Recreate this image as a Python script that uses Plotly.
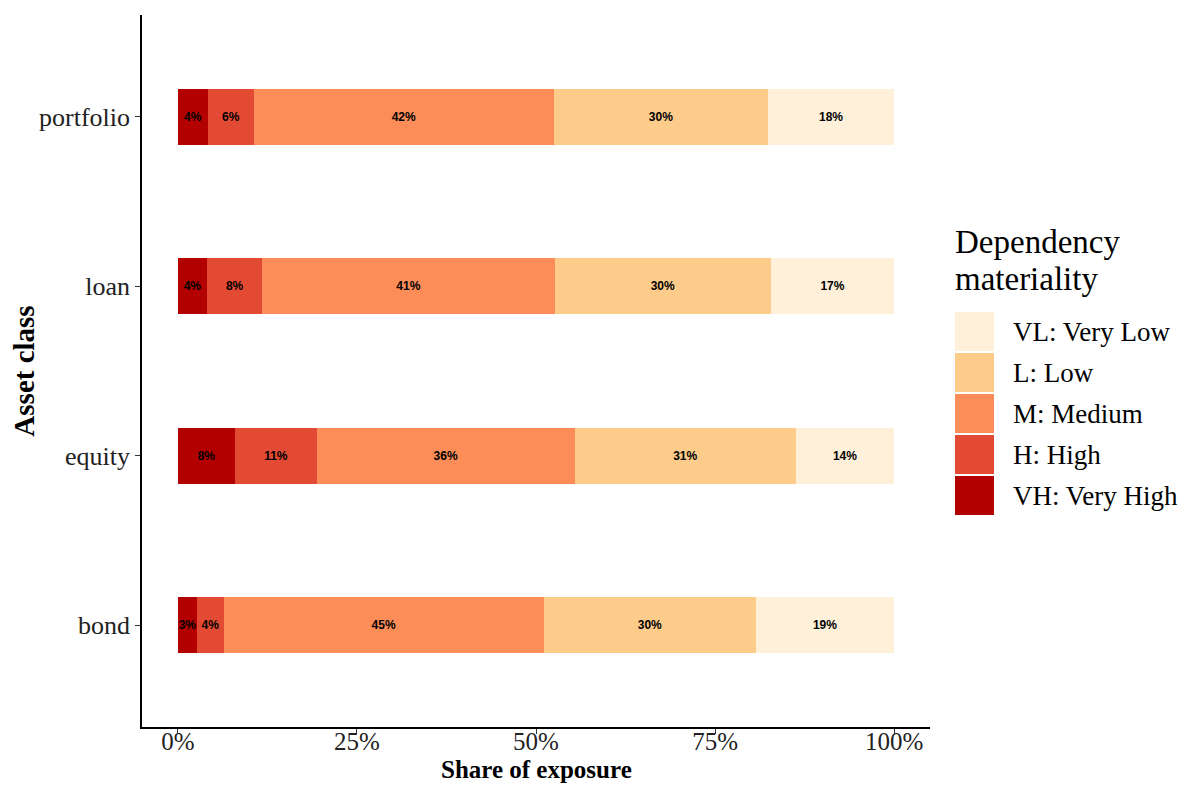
import plotly.graph_objects as go

categories = ["bond", "equity", "loan", "portfolio"]
levels = ["VH: Very High", "H: High", "M: Medium", "L: Low", "VL: Very Low"]
colors = ["#B30000", "#E34A33", "#FC8D59", "#FDCC8A", "#FEF0D9"]

# shares (%) per level, in category order bond, equity, loan, portfolio
vh = [2.7, 8.0, 4.1, 4.2]
h = [3.7, 11.4, 7.7, 6.4]
m = [44.7, 36.0, 40.8, 41.9]
l = [29.6, 30.9, 30.2, 29.9]
vl = [19.3, 13.7, 17.2, 17.6]
series = [vh, h, m, l, vl]

x_ticks = [0, 25, 50, 75, 100]
x_ticktext = ["0%", "25%", "50%", "75%", "100%"]

fig = go.Figure()
for name, vals, col in zip(levels, series, colors):
    fig.add_trace(go.Bar(
        y=categories, x=vals, name=name, orientation="h",
        marker=dict(color=col, line=dict(width=0)),
        width=0.33,
        text=[f"{v:.0f}%" for v in vals],
        textposition="inside", insidetextanchor="middle", textangle=0,
        textfont=dict(family="Liberation Sans", size=12, color="black", weight="bold"),
        showlegend=False,
    ))

W, H = 1195, 777
OFF = 8  # page offset of the figure in the screenshot
pl, pr, pt, pb = 142 - OFF, W - (930 - OFF), 15 - OFF, H - (727 - OFF)

fig.update_layout(
    barmode="stack",
    width=W, height=H,
    margin=dict(l=pl, r=pr, t=pt, b=pb, autoexpand=False),
    plot_bgcolor="white", paper_bgcolor="white",
    uniformtext=dict(minsize=12, mode="show"),
    font=dict(family="Liberation Serif", color="black"),
)
fig.update_xaxes(
    range=[-5, 105], tickvals=x_ticks, ticktext=x_ticktext,
    showgrid=False, zeroline=False, automargin=False,
    showline=True, linecolor="black", linewidth=1.5,
    ticks="outside", ticklen=5, tickcolor="#333", tickwidth=1,
    ticklabelstandoff=-14,
    tickfont=dict(family="Liberation Serif", size=25, color="#222"),
)
fig.update_yaxes(
    range=[-0.6, 3.6], categoryorder="array", categoryarray=categories,
    showgrid=False, zeroline=False, automargin=False,
    showline=True, linecolor="black", linewidth=1.5,
    ticks="outside", ticklen=5, tickcolor="#333", tickwidth=1,
    tickfont=dict(family="Liberation Serif", size=26, color="#222"),
    title=dict(text="<b>Asset class</b>", font=dict(family="Liberation Serif", size=29, color="black"), standoff=10),
)

# pixel helpers (screenshot coordinates -> paper coordinates)
pw, ph = W - pl - pr, H - pt - pb
def px_x(x):
    return (x - OFF - pl) / pw
def px_y(y):
    return (H - pb - (y - OFF)) / ph

# x-axis title as annotation so it is not clipped
fig.add_annotation(
    xref="paper", yref="paper", x=0.5, y=px_y(785),
    xanchor="center", yanchor="bottom", showarrow=False,
    text="<b>Share of exposure</b>",
    font=dict(family="Liberation Serif", size=25, color="black"),
)

# Custom legend (layout decoration)
for txt, yc in [("Dependency", 242), ("materiality", 279)]:
    fig.add_annotation(
        xref="paper", yref="paper", x=px_x(953), y=px_y(yc),
        xanchor="left", yanchor="middle", align="left", showarrow=False,
        text=txt,
        font=dict(family="Liberation Serif", size=33, color="black"),
    )
legend_order = list(range(len(levels)))[::-1]  # VL at top
for i, idx in enumerate(legend_order):
    y0 = 312 + i * 41
    fig.add_shape(
        type="rect", xref="paper", yref="paper",
        x0=px_x(955), x1=px_x(994), y0=px_y(y0), y1=px_y(y0 + 39),
        fillcolor=colors[idx], line=dict(width=0),
    )
    fig.add_annotation(
        xref="paper", yref="paper", x=px_x(1011), y=px_y(y0 + 20),
        xanchor="left", yanchor="middle", showarrow=False,
        text=levels[idx],
        font=dict(family="Liberation Serif", size=27, color="black"),
    )

fig.write_html("out.html")
